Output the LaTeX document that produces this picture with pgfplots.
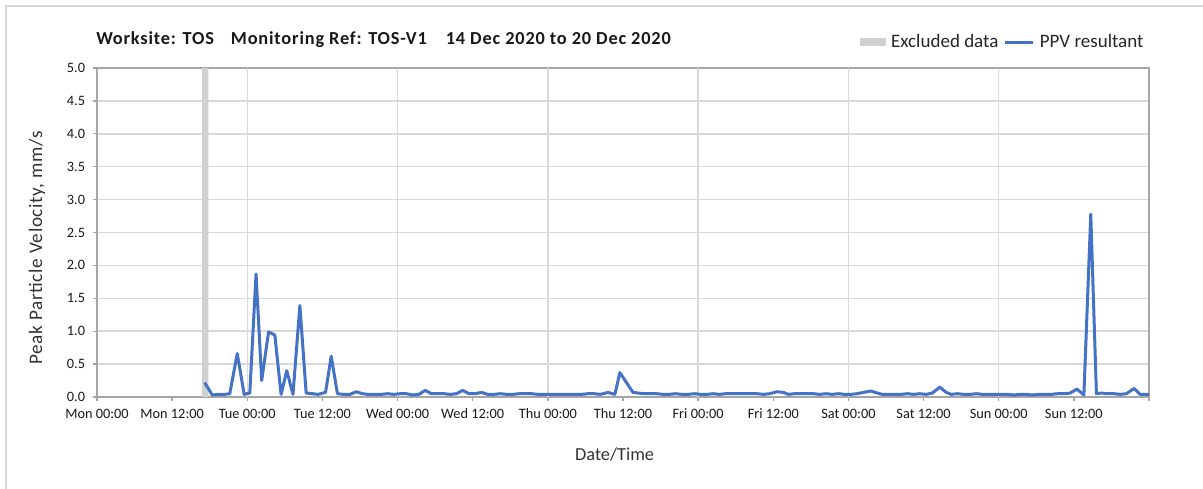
\documentclass[border=0pt]{standalone}
\usepackage{fontspec}
\setmainfont{Carlito}
\newfontfamily\ylfont[LetterSpace=3.5]{Carlito}
\newfontfamily\ttlfont[LetterSpace=4.5]{Carlito}
\usepackage{pgfplots}
\pgfplotsset{compat=1.18}
\definecolor{ppv}{HTML}{4472C4}
\definecolor{gridc}{HTML}{D9D9D9}
\definecolor{axc}{HTML}{A6A6A6}
\definecolor{exc}{HTML}{D0D0D0}
\begin{document}
\begin{tikzpicture}
\useasboundingbox (0,0) rectangle (721.8pt,293.4pt);
\draw[gridc, line width=0.8pt] (3.6pt,0) -- (3.6pt,289.8pt) -- (721.8pt,289.8pt);
\begin{axis}[
  at={(58.2pt,55.2pt)}, anchor=south west,
  scale only axis, width=631.2pt, height=197.4pt,
  xmin=0, xmax=168, ymin=0, ymax=5,
  xtick={0,12,...,168},
  xticklabels={Mon 00:00,Mon 12:00,Tue 00:00,Tue 12:00,Wed 00:00,Wed 12:00,Thu 00:00,Thu 12:00,Fri 00:00,Fri 12:00,Sat 00:00,Sat 12:00,Sun 00:00,Sun 12:00,{}},
  extra x ticks={24,48,...,144},
  extra x tick labels={},
  extra x tick style={grid=major, major tick length=0pt},
  ytick={0,0.5,...,5},
  yticklabel style={/pgf/number format/fixed, /pgf/number format/fixed zerofill, /pgf/number format/precision=1, /pgf/number format/assume math mode=true, xshift=-1pt},
  ymajorgrids,
  grid style={gridc, line width=0.9pt},
  tick align=outside, tick pos=left,
  major tick length=2.6pt,
  tick style={axc, line width=0.8pt},
  axis line style={axc, line width=0.9pt},
  ticklabel style={font=\fontsize{8.6}{10}\selectfont, text=black!90},
  xticklabel style={yshift=-1pt},
  xlabel={Date/Time},
  ylabel={Peak Particle Velocity, mm/s},
  label style={font=\fontsize{11}{13}\selectfont, text=black!80},
  xlabel style={at={(axis description cs:0.492,-0.176)}, anchor=center},
  ylabel style={at={(axis description cs:-0.057,0.453)}, anchor=center, font=\ylfont\fontsize{11.5}{13}\selectfont},
  every axis title shift/.style={yshift=0pt},
  title={Worksite: TOS\hspace{10.2pt}Monitoring Ref: TOS-V1\hspace{11.4pt}14 Dec 2020 to 20 Dec 2020},
  title style={at={(axis description cs:-0.001,1.091)}, anchor=west, yshift=-7.2pt, font=\ttlfont\bfseries\fontsize{11}{13}\selectfont, text=black!90, inner sep=0pt},
  legend style={at={(axis description cs:1.003,1.079)}, anchor=east, draw=none, fill=none,
    font=\fontsize{11.4}{13}\selectfont, text=black!85, column sep=1pt},
  legend columns=-1,
  clip=true,
]
\addplot[fill=exc, draw=none, legend image code/.code={\fill[exc] (-0.05cm,-0.09cm) rectangle (0.5cm,0.09cm);}] coordinates {(16.8,0) (16.8,5) (17.8,5) (17.8,0)} \closedcycle;
\addlegendentry{Excluded data}
\addplot[ppv, line width=1.8pt, line join=round, mark=none] coordinates {
(17.2,0.22)(18.4,0.03)(19.4,0.04)(20.4,0.04)(21.2,0.05)(22.4,0.66)(23.5,0.04)(24.4,0.06)
(25.4,1.87)(26.3,0.25)(27.4,0.99)(28.4,0.94)(29.4,0.04)(30.3,0.40)(31.3,0.04)(32.4,1.39)
(33.4,0.06)(34.4,0.05)(35.3,0.04)(36.5,0.07)(37.4,0.62)(38.4,0.05)(39.4,0.04)(40.4,0.04)
(41.4,0.08)(42.4,0.05)(43.3,0.04)(44.4,0.04)(45.4,0.04)(46.4,0.05)(47.4,0.04)(48.4,0.05)
(49.4,0.05)(50.4,0.03)(51.4,0.04)(52.4,0.10)(53.4,0.05)(54.4,0.05)(55.4,0.05)(56.4,0.04)
(57.4,0.05)(58.4,0.10)(59.4,0.05)(60.4,0.05)(61.4,0.07)(62.4,0.04)(63.4,0.04)(64.4,0.05)
(65.4,0.04)(66.4,0.04)(67.4,0.05)(68.4,0.05)(69.4,0.05)(70.4,0.04)(71.4,0.04)(72.4,0.04)
(73.4,0.04)(74.4,0.04)(75.4,0.04)(76.4,0.04)(77.4,0.04)(78.4,0.05)(79.4,0.05)(80.4,0.04)
(81.6,0.07)(82.7,0.04)(83.5,0.37)(85.6,0.07)(86.4,0.06)(87.4,0.05)(88.4,0.05)(89.4,0.05)
(90.4,0.04)(91.4,0.04)(92.4,0.05)(93.4,0.04)(94.4,0.04)(95.4,0.05)(96.4,0.04)(97.4,0.04)
(98.4,0.05)(99.4,0.04)(100.4,0.05)(101.4,0.05)(102.4,0.05)(103.4,0.05)(104.4,0.05)(105.4,0.05)
(106.4,0.04)(107.4,0.05)(108.6,0.08)(109.6,0.07)(110.4,0.04)(111.4,0.05)(112.4,0.05)(113.4,0.05)
(114.4,0.05)(115.4,0.04)(116.4,0.05)(117.4,0.04)(118.4,0.05)(119.4,0.04)(120.4,0.04)(121.4,0.05)
(122.4,0.07)(123.6,0.09)(124.6,0.06)(125.4,0.04)(126.4,0.04)(127.4,0.04)(128.4,0.04)(129.4,0.05)
(130.4,0.04)(131.4,0.05)(132.4,0.04)(133.4,0.06)(134.6,0.15)(135.6,0.07)(136.4,0.04)(137.4,0.05)
(138.4,0.04)(139.4,0.04)(140.4,0.05)(141.4,0.04)(142.4,0.04)(143.4,0.04)(144.4,0.04)(145.4,0.04)
(146.4,0.03)(147.4,0.04)(148.4,0.04)(149.4,0.03)(150.4,0.04)(151.4,0.04)(152.4,0.04)(153.4,0.05)
(154.4,0.05)(155.4,0.06)(156.5,0.12)(157.6,0.03)(158.7,2.78)(159.6,0.05)(160.4,0.06)(161.4,0.05)
(162.4,0.05)(163.4,0.04)(164.4,0.05)(165.6,0.13)(166.6,0.04)(167.4,0.04)(168,0.04)
};
\addlegendentry{PPV resultant}
\end{axis}
\end{tikzpicture}
\end{document}
